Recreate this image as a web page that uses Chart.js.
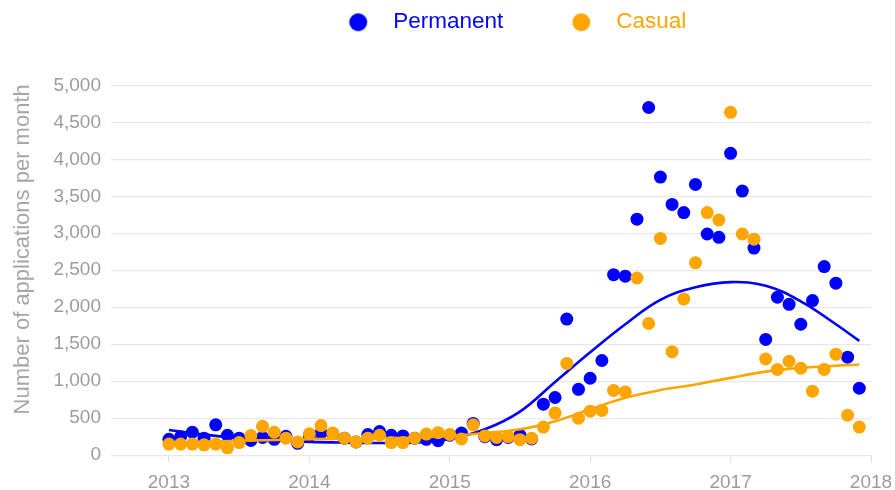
<!DOCTYPE html>
<html>
<head>
<meta charset="utf-8">
<script src="https://cdn.jsdelivr.net/npm/chart.js@4"></script>
<style>
  html, body { margin: 0; padding: 0; background: #fff; }
</style>
</head>
<body>
<canvas id="chart" width="895" height="490"></canvas>
<script>
const startYear = 2013;
const yearTicks = [2013, 2014, 2015, 2016, 2017, 2018];
const valueTicks = [0, 500, 1000, 1500, 2000, 2500, 3000, 3500, 4000, 4500, 5000];
const seriesNames = ['Permanent', 'Casual'];
const seriesColors = ['#0000ff', '#ffa500'];

// monthly applications, Jan 2013 .. Dec 2017
const permanent = [
  215, 250, 310, 230, 410, 270, 230, 200, 240, 215, 255, 160,
  260, 300, 290, 230, 180, 280, 320, 270, 260, 230, 215, 195,
  270, 300, 430, 250, 210, 240, 270, 220, 690, 780, 1840, 890,
  1040, 1280, 2440, 2420, 3190, 4700, 3760, 3390, 3280, 3660, 2990, 2945,
  4080, 3570, 2800, 1565, 2135, 2040, 1770, 2090, 2550, 2325, 1325, 905
];
const casual = [
  150, 150, 150, 140, 150, 100, 170, 265, 390, 310, 230, 180,
  290, 400, 300, 230, 180, 230, 270, 170, 170, 230, 285, 305,
  280, 220, 410, 260, 240, 250, 210, 230, 380, 570, 1240, 500,
  595, 605, 875, 855, 2395, 1780, 2930, 1400, 2110, 2600, 3280, 3180,
  4635, 2990, 2920, 1300, 1160, 1270, 1175, 865, 1160, 1365, 540, 380
];

// smoothed trend at these month offsets
const trendMonths = [0, 3, 6, 9, 12, 15, 18, 21, 24, 27, 30, 33, 36, 39, 42, 45, 48, 51, 54, 57, 59];
const permanentTrend = [340, 280, 230, 200, 180, 170, 165, 170, 220, 350, 590, 990, 1390, 1770, 2100, 2270, 2340, 2290, 2080, 1770, 1545];
const casualTrend = [170, 180, 195, 205, 215, 225, 230, 240, 260, 300, 350, 460, 620, 775, 880, 955, 1045, 1130, 1180, 1210, 1225];

const FONT = "'Liberation Sans', Arial, Helvetica, sans-serif";

const toPoints = vals => vals.map((v, i) => ({x: startYear + i / 12, y: v}));
const toTrend = vals => vals.map((v, i) => ({x: startYear + trendMonths[i] / 12, y: v}));

// legend marker: a dot drawn off-centre so the gap to the label matches
function legendDot(color) {
  const c = document.createElement('canvas');
  c.width = 60;
  c.height = 20;
  const g = c.getContext('2d');
  g.fillStyle = color;
  g.beginPath();
  g.arc(49.4, 10, 9, 0, Math.PI * 2);
  g.fill();
  return c;
}

const ctx = document.getElementById('chart').getContext('2d');

new Chart(ctx, {
  type: 'scatter',
  data: {
    datasets: [
      {
        label: seriesNames[0],
        data: toPoints(permanent),
        backgroundColor: seriesColors[0],
        borderWidth: 0,
        pointRadius: 6.5,
        order: 4
      },
      {
        label: seriesNames[1],
        data: toPoints(casual),
        backgroundColor: seriesColors[1],
        borderWidth: 0,
        pointRadius: 6.5,
        order: 2
      },
      {
        type: 'line',
        label: seriesNames[0] + ' trend',
        data: toTrend(permanentTrend),
        borderColor: seriesColors[0],
        borderWidth: 2.6,
        pointRadius: 0,
        tension: 0.4,
        fill: false,
        order: 3
      },
      {
        type: 'line',
        label: seriesNames[1] + ' trend',
        data: toTrend(casualTrend),
        borderColor: seriesColors[1],
        borderWidth: 2.6,
        pointRadius: 0,
        tension: 0.4,
        fill: false,
        order: 1
      }
    ]
  },
  options: {
    responsive: false,
    animation: false,
    layout: {
      padding: {top: -4.5, left: 5, right: 0, bottom: -13}
    },
    plugins: {
      tooltip: {enabled: false},
      legend: {
        position: 'top',
        fullSize: false,
        onClick: null,
        labels: {
          usePointStyle: true,
          pointStyleWidth: 86.25,
          padding: 15.5,
          font: {size: 22.5, family: FONT},
          generateLabels: () => seriesNames.map((name, i) => ({
            text: name,
            fontColor: seriesColors[i],
            fillStyle: seriesColors[i],
            strokeStyle: seriesColors[i],
            lineWidth: 0,
            pointStyle: legendDot(seriesColors[i]),
            hidden: false,
            datasetIndex: i
          }))
        }
      }
    },
    scales: {
      x: {
        type: 'linear',
        min: 2012.587,
        max: 2018,
        afterBuildTicks: scale => {
          scale.ticks = yearTicks.map(v => ({value: v}));
        },
        afterFit: scale => {
          scale.paddingRight = 24;
        },
        border: {display: false},
        grid: {
          drawOnChartArea: false,
          drawTicks: true,
          tickLength: 7,
          color: '#dcdcdc',
          lineWidth: 1
        },
        ticks: {
          padding: 9,
          color: '#9c9c9c',
          font: {size: 19, family: FONT},
          maxRotation: 0,
          callback: v => String(v)
        }
      },
      y: {
        min: 0,
        max: 5565,
        afterBuildTicks: scale => {
          scale.ticks = valueTicks.map(v => ({value: v}));
        },
        border: {display: false},
        grid: {
          drawTicks: false,
          color: '#e8e8e8',
          lineWidth: 1.3
        },
        ticks: {
          padding: 10,
          color: '#9c9c9c',
          font: {size: 19, family: FONT},
          callback: v => v.toLocaleString('en-US')
        },
        title: {
          display: true,
          text: 'Number of applications per month',
          color: '#a6a6a6',
          font: {size: 22, family: FONT},
          padding: {top: 5, bottom: 7}
        }
      }
    }
  }
});
</script>
</body>
</html>
